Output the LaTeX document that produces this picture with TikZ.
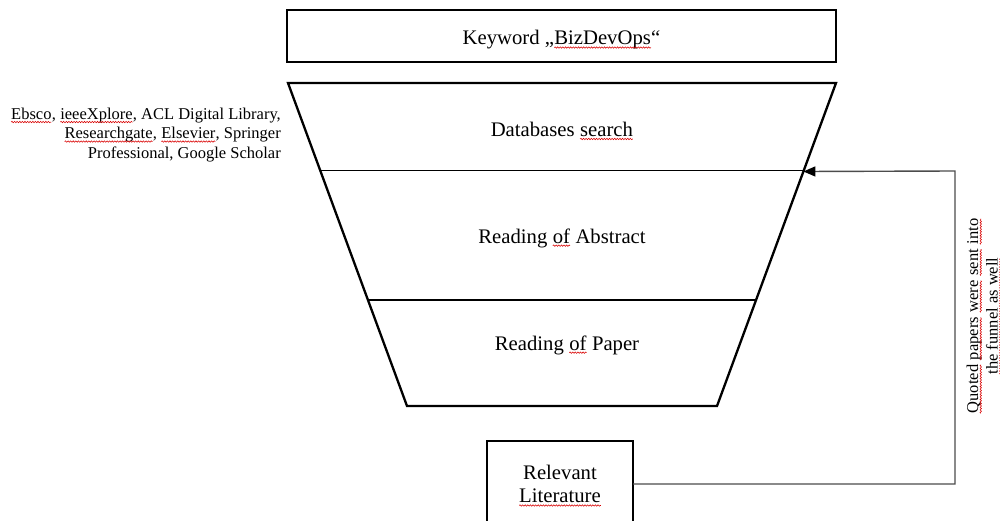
\documentclass[tikz,border=0pt]{standalone}
\usepackage{fontspec}
\setmainfont{Liberation Serif}
\usetikzlibrary{calc,arrows.meta,decorations.pathmorphing}

% red wavy spell-check underline under a word
\newcommand\wavy[1]{\tikz[baseline=(w.base)]{%
  \node[inner sep=0pt, outer sep=0pt, minimum width=0pt, minimum height=0pt,
    draw=none, fill=none, align=left] (w) {#1};
  \draw[squig] ([yshift=-2.6pt]w.base west) -- ([yshift=-2.6pt]w.base east);}}

\tikzset{
  squig/.style={draw=red!85!black, line width=0.55pt, decorate,
    decoration={snake, amplitude=0.7pt, segment length=2.6pt}},
  bigtext/.style={font=\fontsize{20.7}{24}\selectfont},
  smalltext/.style={font=\fontsize{16.5}{19.5}\selectfont},
  frame/.style={draw=black, line width=2.3pt},
  divider/.style={draw=black, line width=1.1pt},
  feedback/.style={draw=black!70, line width=1.4pt},
  label/.style={inner sep=0pt, align=center},
}

\begin{document}
\begin{tikzpicture}[x=1pt, y=-1pt]
\clip (0,0) rectangle (1000,521);

% keyword box
\draw[frame] (287,10) rectangle (836,62);
\node[label, bigtext] (kw) at (561.5,40) {Keyword „\wavy{BizDevOps}“};

% funnel outline
\coordinate (tl) at (288,83);
\coordinate (tr) at (836,83);
\coordinate (br) at (717,406);
\coordinate (bl) at (407,406);
\draw[frame, line join=miter] (tl) -- (tr) -- (br) -- (bl) -- cycle;

% funnel stage dividers
\coordinate (d1l) at ($(tl)!0.2709!(bl)$);
\coordinate (d1r) at ($(tr)!0.2709!(br)$);
\coordinate (d2l) at ($(tl)!0.6718!(bl)$);
\coordinate (d2r) at ($(tr)!0.6718!(br)$);
\draw[divider] (d1l) -- (d1r);
\draw[divider] (d2l) -- (d2r);

% stage labels
\node[label, bigtext] (s1) at (562,131) {Databases \wavy{search}};
\node[label, bigtext] (s2) at (562,238) {Reading \wavy{of} Abstract};
\node[label, bigtext] (s3) at (567,345) {Reading \wavy{of} Paper};

% sources
\node[label, smalltext, align=right, anchor=east] (src) at (281,135)
  {\wavy{Ebsco}, \wavy{ieeeXplore}, ACL Digital Library,\\
   \wavy{Researchgate}, \wavy{Elsevier}, Springer\\
   Professional, Google Scholar};

% result box
\draw[frame] (487,441) rectangle (633,540);
\node[label, bigtext] (lit) at (560,486) {Relevant\\[-1pt]\wavy{Literature}};
\coordinate (litout) at (633,484);

% feedback loop into the funnel
\coordinate (entry) at ($(tr)!0.2740!(br)$);
\coordinate (turn) at (955,171);
\draw[feedback, -{Triangle[length=12pt,width=10pt,black]}]
  (litout) -| (turn) -- (entry);
\node[label, smalltext, rotate=90] (note) at (984,316)
  {\wavy{Quoted} \wavy{papers} \wavy{were} \wavy{sent} \wavy{into}\\
   \wavy{the funnel as well}};
\end{tikzpicture}
\end{document}
